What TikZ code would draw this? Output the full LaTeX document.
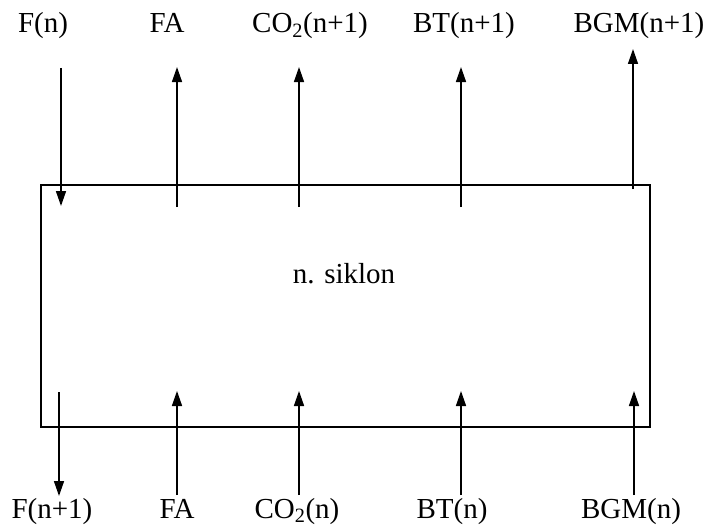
\documentclass[tikz,border=0pt]{standalone}
\usepackage{fontspec}
\setmainfont{Liberation Serif}
\usetikzlibrary{arrows.meta}
\begin{document}
\begin{tikzpicture}[x=1pt,y=-1pt,
  lbl/.style={anchor=base,inner sep=0pt,font=\fontsize{29}{32}\selectfont},
  flow/.style={line width=1.5pt,-{Triangle[length=15pt,width=10pt]}},
  box/.style={draw,line width=1.5pt}]
\useasboundingbox (0,0) rectangle (709,527);
\fill[white] (0,0) rectangle (709,527);
% box
\node[box,minimum width=609pt,minimum height=242pt,inner sep=0pt,anchor=north west] (cyc) at (40,184) {};
\node[lbl] (title) at (344,283) {n. siklon};
% top labels
\node[lbl] (tF)  at (43,33)  {F(n)};
\node[lbl] (tFA) at (167,33) {FA};
\node[lbl] (tCO) at (310,33) {CO\textsubscript{2}(n+1)};
\node[lbl] (tBT) at (464,33) {BT(n+1)};
\node[lbl] (tBG) at (639,33) {BGM(n+1)};
% bottom labels
\node[lbl] (bF)  at (52,518)  {F(n+1)};
\node[lbl] (bFA) at (177,518) {FA};
\node[lbl] (bCO) at (297,518) {CO\textsubscript{2}(n)};
\node[lbl] (bBT) at (452,518) {BT(n)};
\node[lbl] (bBG) at (631,518) {BGM(n)};
% top arrow ends
\coordinate (a1s) at (61,68);  \coordinate (a1e) at (61,206);
\coordinate (a2s) at (177,207); \coordinate (a2e) at (177,67);
\coordinate (a3s) at (299,207); \coordinate (a3e) at (299,67);
\coordinate (a4s) at (461,207); \coordinate (a4e) at (461,67);
\coordinate (a5s) at (633,189); \coordinate (a5e) at (633,49);
% bottom arrow ends
\coordinate (b1s) at (59,392);  \coordinate (b1e) at (59,496);
\coordinate (b2s) at (177,495); \coordinate (b2e) at (177,391);
\coordinate (b3s) at (299,495); \coordinate (b3e) at (299,391);
\coordinate (b4s) at (461,495); \coordinate (b4e) at (461,391);
\coordinate (b5s) at (634,495); \coordinate (b5e) at (634,391);
\foreach \s/\e in {a1s/a1e,a2s/a2e,a3s/a3e,a4s/a4e,a5s/a5e,b1s/b1e,b2s/b2e,b3s/b3e,b4s/b4e,b5s/b5e}
  \draw[flow] (\s) -- (\e);
\end{tikzpicture}
\end{document}
